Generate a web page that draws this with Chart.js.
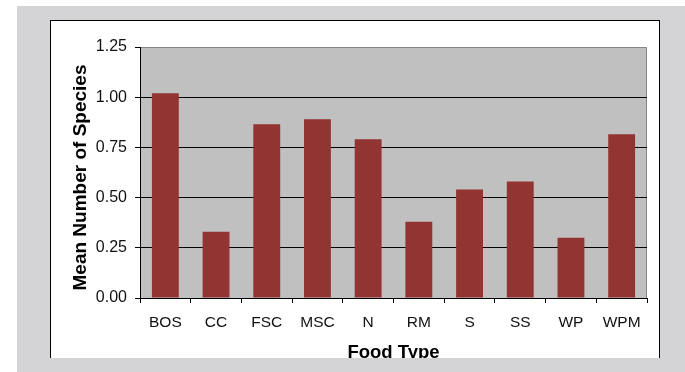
<!DOCTYPE html>
<html>
<head>
<meta charset="utf-8">
<script src="https://cdn.jsdelivr.net/npm/chart.js@4"></script>
<style>
  html, body { margin: 0; padding: 0; background: #fff; }
  #wrap { position: relative; width: 685px; height: 372px; overflow: hidden; }
  .frame { position: absolute; left: 17px; top: 6px; width: 668px; height: 366px; background: #d4d4d6; }
  .panel { position: absolute; left: 50px; top: 20px; width: 610px; height: 345px; background: #fff;
           border: 1px solid #000; border-bottom: none; box-sizing: border-box; }
  .band { position: absolute; left: 17px; top: 358px; width: 668px; height: 14px; background: #d4d4d6; }
  canvas { position: absolute; left: 0; top: 0; }
</style>
</head>
<body>
<div id="wrap">
  <div class="frame"></div>
  <div class="panel"></div>
  <canvas id="chart" width="685" height="372" style="width:685px;height:372px"></canvas>
  <div class="band"></div>
</div>
<script>
// Food types and mean species count per type
const categories = ['BOS', 'CC', 'FSC', 'MSC', 'N', 'RM', 'S', 'SS', 'WP', 'WPM'];
const meanSpecies = [1.02, 0.33, 0.865, 0.89, 0.79, 0.38, 0.54, 0.58, 0.30, 0.815];
const yTicks = [0, 0.25, 0.5, 0.75, 1.0, 1.25];
const yTitle = 'Mean Number of Species';
const xTitle = 'Food Type';

const FONT = "'Liberation Sans', Arial, sans-serif";

// grey plot backdrop with a thin grey frame on top and right
const plotBackdrop = {
  id: 'plotBackdrop',
  beforeDraw(chart) {
    const { ctx, chartArea: { left, top, right, bottom } } = chart;
    ctx.save();
    ctx.fillStyle = '#c0c0c0';
    ctx.fillRect(left, top, right - left, bottom - top);
    ctx.strokeStyle = '#858585';
    ctx.lineWidth = 1;
    ctx.beginPath();
    ctx.moveTo(left, top + 0.5);
    ctx.lineTo(right - 0.5, top + 0.5);
    ctx.lineTo(right - 0.5, bottom);
    ctx.stroke();
    ctx.restore();
  }
};

// vertical axis title, set a little below the plot's middle
const yAxisTitle = {
  id: 'yAxisTitle',
  afterDraw(chart) {
    const { ctx, chartArea: { top, bottom } } = chart;
    ctx.save();
    ctx.translate(80.5, (top + bottom) / 2 + 5);
    ctx.rotate(-Math.PI / 2);
    ctx.font = "bold 19px " + FONT;
    ctx.fillStyle = '#000';
    ctx.textAlign = 'center';
    ctx.textBaseline = 'middle';
    ctx.fillText(yTitle, 0, 0);
    ctx.restore();
  }
};

new Chart(document.getElementById('chart'), {
  type: 'bar',
  data: {
    labels: categories,
    datasets: [{
      data: meanSpecies,
      backgroundColor: '#913432',
      borderWidth: 0,
      barPercentage: 0.53,
      categoryPercentage: 1.0
    }]
  },
  options: {
    responsive: false,
    devicePixelRatio: 1,
    animation: false,
    layout: { padding: { left: 68, top: 47, right: 38, bottom: 8 } },
    plugins: { legend: { display: false }, tooltip: { enabled: false } },
    scales: {
      x: {
        grid: { offset: true, drawOnChartArea: false, drawTicks: true, tickLength: 5, tickColor: '#000' },
        border: { color: '#000', width: 1 },
        ticks: { color: '#111', padding: 10, font: { family: FONT, size: 15.5 } },
        title: { display: true, text: xTitle, color: '#000', padding: 0,
                 font: { family: FONT, size: 18.5, weight: 'bold' } },
        afterFit(scale) { scale.height = 66; }
      },
      y: {
        min: 0, max: 1.25,
        afterBuildTicks(scale) { scale.ticks = yTicks.map(v => ({ value: v })); },
        grid: {
          color: (c) => (c.tick && c.tick.value >= 1.25) ? 'rgba(0,0,0,0)' : '#000',
          tickColor: '#000', tickLength: 5, drawTicks: true
        },
        border: { color: '#000', width: 1 },
        ticks: { color: '#111', padding: 8, font: { family: FONT, size: 16 },
                 callback: (v) => Number(v).toFixed(2) },
        afterFit(scale) { scale.width = 72; }
      }
    }
  },
  plugins: [plotBackdrop, yAxisTitle]
});
</script>
</body>
</html>
